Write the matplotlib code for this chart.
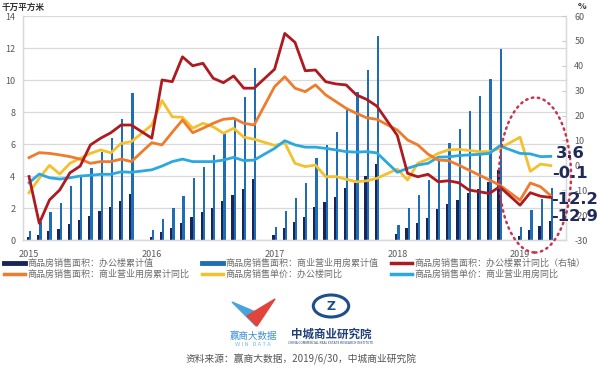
import numpy as np
import matplotlib
matplotlib.use('Agg')
import matplotlib.pyplot as plt
from matplotlib.lines import Line2D
from matplotlib.patches import Ellipse, Polygon, Circle

plt.rcParams['font.family'] = ['Noto Sans CJK SC', 'DejaVu Sans']
plt.rcParams['axes.unicode_minus'] = False

# monthly data, Jan-Feb combined (no January point)
months = [f'{y}-{m:02d}' for y in (2015, 2016, 2017, 2018) for m in range(2, 13)] + \
         ['2019-02', '2019-03', '2019-04', '2019-05']

# 商品房销售面积：办公楼累计值 (千万平方米)
office_area = [0.18, 0.32, 0.55, 0.71, 1.03, 1.23, 1.48, 1.81, 2.04, 2.42, 2.87,
               0.17, 0.48, 0.73, 1.04, 1.46, 1.77, 2.02, 2.44, 2.81, 3.17, 3.79,
               0.31, 0.73, 1.10, 1.46, 2.04, 2.38, 2.71, 3.23, 3.58, 4.02, 4.73,
               0.35, 0.73, 1.08, 1.40, 1.92, 2.23, 2.50, 2.96, 3.17, 3.60, 4.38,
               0.25, 0.62, 0.90, 1.21]
# 商品房销售面积：商业营业用房累计值
comm_area = [0.56, 1.10, 1.77, 2.31, 3.40, 3.92, 4.52, 5.48, 6.35, 7.58, 9.21,
             0.62, 1.31, 1.98, 2.75, 3.85, 4.58, 5.31, 6.60, 7.50, 8.92, 10.73,
             0.79, 1.83, 2.60, 3.54, 5.10, 5.94, 6.75, 8.19, 9.25, 10.63, 12.77,
             0.94, 1.98, 2.81, 3.73, 4.96, 6.08, 6.92, 8.08, 9.00, 10.06, 11.92,
             0.79, 1.87, 2.54, 3.27]
# 商品房销售面积：办公楼累计同比 (右轴, %)
office_yoy = [-4.5, -23.3, -13.9, -9.9, -3.0, -0.3, 8.2, 10.9, 13.1, 16.2, 16.2,
              10.9, 34.3, 33.6, 43.6, 40.0, 41.0, 35.0, 33.2, 35.9, 31.0, 31.0,
              38.6, 53.0, 49.4, 38.0, 38.3, 33.6, 32.7, 32.3, 28.3, 26.5, 23.8,
              12.0, -3.2, -4.6, -3.6, -6.6, -6.2, -7.0, -9.9, -10.6, -11.3, -8.6,
              -16.0, -11.0, -12.4, -12.9]
# 商品房销售面积：商业营业用房累计同比
comm_yoy = [3.1, 5.1, 4.8, 4.2, 3.5, 2.5, 0.8, 1.5, 1.5, 2.5, 1.5,
            9.1, 8.2, 13.3, 18.2, 13.1, 14.9, 16.9, 18.5, 18.9, 16.9, 16.2,
            31.6, 35.6, 31.0, 29.6, 32.3, 28.3, 25.6, 22.9, 20.9, 19.1, 18.5,
            14.2, 10.2, 8.2, 4.5, 2.1, 1.9, 0.1, -1.9, -3.9, -5.9, -7.9,
            -14.0, -7.1, -8.6, -12.2]
# 商品房销售单价：办公楼同比
office_price = [-11.0, -5.2, 0.0, -3.5, 0.8, 2.8, 4.8, 6.2, 5.0, 8.8, 9.5,
                16.2, 26.0, 19.5, 19.3, 14.9, 16.9, 15.5, 12.9, 14.9, 11.3, 10.5,
                8.0, 9.0, 0.8, -0.5, 0.1, -4.6, -4.5, -5.6, -6.6, -6.2, -5.2,
                -1.5, -5.9, 0.8, 2.5, 4.8, 6.2, 6.4, 6.0, 5.5, 5.5, 6.8,
                11.3, -2.4, 0.5, -0.1]
# 商品房销售单价：商业营业用房同比
comm_price = [-7.0, -3.5, -5.0, -5.5, -5.0, -4.3, -4.0, -3.6, -3.6, -2.6, -2.8,
              -1.8, -0.3, 1.5, 2.5, 1.5, 1.5, 1.5, 2.1, 3.2, 1.9, 2.1,
              6.8, 9.9, 8.2, 7.3, 7.3, 6.8, 6.2, 5.5, 5.3, 5.5, 5.0,
              -2.8, -1.2, 0.1, 0.8, 3.3, 3.4, 3.9, 4.2, 4.4, 4.8, 7.8,
              4.8, 4.6, 3.5, 3.6]

year_ticks = ['2015', '2016', '2017', '2018', '2019']
callouts = ['3.6', '-0.1', '-12.2', '-12.9']

labels = ['商品房销售面积：办公楼累计值',
          '商品房销售面积：商业营业用房累计值',
          '商品房销售面积：办公楼累计同比（右轴）',
          '商品房销售面积：商业营业用房累计同比',
          '商品房销售单价：办公楼同比',
          '商品房销售单价：商业营业用房同比']

NAVY = '#17255a'
BLUE = '#1f6db4'
RED = '#ad1a1f'
ORANGE = '#ef7b2c'
YELLOW = '#f4c02c'
LBLUE = '#2aa9e0'
GRID = '#d9d9d9'

t = np.array([(int(s[:4]) - 2015) * 12 + int(s[5:]) - 1 for s in months])

W, H = 600, 373
fig = plt.figure(figsize=(6, 3.73), dpi=100)

def fx(px):
    return px / W

def fy(py):
    return 1 - py / H

ax = fig.add_axes([fx(23), fy(240), fx(566) - fx(23), fy(16) - fy(240)])
ax.set_xlim(0.41, 53.49)
ax.set_ylim(0, 14)

bar_w = 0.22
ax.bar(t - 0.11, office_area, bar_w, color=NAVY, zorder=2)
ax.bar(t + 0.11, comm_area, bar_w, color=BLUE, zorder=2)

ax.set_axisbelow(True)
ax.yaxis.grid(True, color=GRID, lw=0.9)
ax.set_yticks(range(0, 15, 2))
ax.tick_params(axis='y', length=0, pad=5.5, labelsize=6.5, labelcolor='#595959')
ax.set_xticks([1, 13, 25, 37, 49])
ax.set_xticklabels(year_ticks)
ax.tick_params(axis='x', length=0, pad=7.5, labelsize=6.5, labelcolor='#595959')

ax2 = ax.twinx()
ax2.set_ylim(-30, 60)
ax2.set_yticks(range(-30, 61, 10))
ax2.tick_params(axis='y', direction='in', length=3, color='#c8c8c8', pad=6,
                labelsize=6.5, labelcolor='#595959')

ax2.plot(t, office_yoy, color=RED, lw=2.0, zorder=5)
ax2.plot(t, comm_yoy, color=ORANGE, lw=2.0, zorder=4)
ax2.plot(t, office_price, color=YELLOW, lw=2.0, zorder=3)
ax2.plot(t, comm_price, color=LBLUE, lw=2.0, zorder=3)

for a in (ax, ax2):
    a.spines['top'].set_visible(False)
    for s in ('left', 'right', 'bottom'):
        a.spines[s].set_color(GRID)
        a.spines[s].set_linewidth(0.9)

# unit labels
fig.text(fx(2), fy(7.5), '千万平方米', fontsize=6.2, fontweight='bold', color='#333333', va='center')
fig.text(fx(578), fy(6.5), '%', fontsize=6.5, fontweight='bold', color='#333333', va='center')

# callout values
for txt, py, px in zip(callouts, [153, 173, 199, 216], [556, 552, 551, 551]):
    fig.text(fx(px), fy(py), txt, fontsize=11.8, fontweight='bold', color='#1f2a5a',
             va='center', ha='left', family=['DejaVu Sans'])

# dotted ellipse
fig.add_artist(Ellipse((fx(535), fy(175)), fx(72), 155 / H, transform=fig.transFigure,
                       fill=False, ls=(0, (0.6, 1.8)), lw=1.8, color='#c8344f',
                       capstyle='round'))

# legend
handles = [Line2D([], [], color=NAVY, lw=3.5),
           Line2D([], [], color=ORANGE, lw=2.5),
           Line2D([], [], color=BLUE, lw=3.5),
           Line2D([], [], color=YELLOW, lw=2.5),
           Line2D([], [], color=RED, lw=2.5),
           Line2D([], [], color=LBLUE, lw=2.5)]
order = [labels[0], labels[3], labels[1], labels[4], labels[2], labels[5]]
fig.legend(handles, order, ncol=3, loc='upper left', bbox_to_anchor=(fx(4), fy(259)),
           frameon=False, fontsize=6.5, handlelength=2.3, handletextpad=0.25,
           columnspacing=1.45, labelspacing=0.15, borderpad=0, borderaxespad=0,
           labelcolor='#6e6e6e')

# WIN DATA logo
fig.add_artist(Polygon([(fx(232), fy(302)), (fx(258), fy(313)), (fx(256), fy(326))],
                       closed=True, transform=fig.transFigure, color='#4aa3dc'))
fig.add_artist(Polygon([(fx(275), fy(299)), (fx(247), fy(316)), (fx(257), fy(326))],
                       closed=True, transform=fig.transFigure, color='#e0443c'))
fig.text(fx(253), fy(336), '赢商大数据', fontsize=6.8, color='#3d8fd6', ha='center', va='center')
fig.text(fx(253), fy(345), 'W I N   D A T A', fontsize=4.2, color='#7cb9e8', ha='center', va='center')

# 中城商业研究院 logo
fig.add_artist(Circle((fx(331), fy(306)), 11 / H, transform=fig.transFigure,
                      fill=False, lw=2.2, color='#1d4f8c'))
fig.text(fx(331), fy(306), 'Z', fontsize=9, fontweight='bold', color='#1d4f8c',
         ha='center', va='center', family=['DejaVu Sans'])
fig.text(fx(331), fy(334), '中城商业研究院', fontsize=8.3, fontweight='bold', color='#1e3f7a',
         ha='center', va='center')
fig.text(fx(331), fy(343), 'CHINA COMMERCIAL REAL ESTATE RESEARCH INSTITUTE', fontsize=2.3,
         color='#1e3f7a', ha='center', va='center')

fig.text(fx(301), fy(359), '资料来源：赢商大数据，2019/6/30，中城商业研究院', fontsize=7,
         color='#555555', ha='center', va='center')

fig.savefig('out.png', dpi=100)
